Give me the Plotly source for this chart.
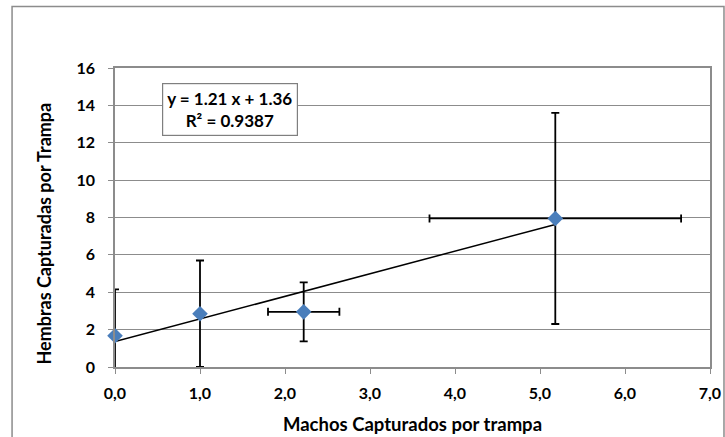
import plotly.graph_objects as go

# Trap capture means (x = males per trap, y = females per trap) with SD
machos = [0.0, 1.0, 2.22, 5.18]
hembras = [1.67, 2.85, 2.95, 7.95]
err_machos = [0.0, 0.0, 0.42, 1.48]
err_hembras = [2.48, 2.85, 1.58, 5.65]

# Linear trendline as reported by the spreadsheet
slope = 1.21
intercept = 1.36
trend_x = [0.0, 5.18]

x_ticks = [0, 1, 2, 3, 4, 5, 6, 7]
x_tick_labels = ["0,0", "1,0", "2,0", "3,0", "4,0", "5,0", "6,0", "7,0"]
y_ticks = [0, 2, 4, 6, 8, 10, 12, 14, 16]

GRID = "#8c8c8c"
FONT = "Lato, 'Open Sans', sans-serif"
TICK_FONT = dict(size=16, color="black", family=FONT)

fig = go.Figure()

fig.add_trace(
    go.Scatter(
        x=trend_x,
        y=[slope * v + intercept for v in trend_x],
        mode="lines",
        line=dict(color="black", width=1.5),
        hoverinfo="skip",
        showlegend=False,
    )
)

# error bars (clipped to the plot area, like the spreadsheet does)
fig.add_trace(
    go.Scatter(
        x=machos,
        y=hembras,
        mode="markers",
        marker=dict(size=1, opacity=0),
        error_x=dict(type="data", array=err_machos, color="black",
                     thickness=1.8, width=4),
        error_y=dict(type="data", array=err_hembras, color="black",
                     thickness=1.8, width=4),
        hoverinfo="skip",
        showlegend=False,
    )
)

# diamonds on top, not clipped so the one at x=0 stays whole
fig.add_trace(
    go.Scatter(
        x=machos,
        y=hembras,
        mode="markers",
        marker=dict(symbol="diamond", size=12, color="#4a7ebb"),
        cliponaxis=False,
        showlegend=False,
    )
)

fig.update_xaxes(
    range=[0, 7],
    tickvals=x_ticks,
    ticktext=[f"<b>{t}</b>" for t in x_tick_labels],
    ticks="outside",
    ticklen=5,
    tickcolor=GRID,
    ticklabelstandoff=6,
    showgrid=False,
    showline=True,
    linecolor=GRID,
    linewidth=1.5,
    mirror=True,
    zeroline=False,
    tickfont=TICK_FONT,
    automargin=False,
    title=dict(text="<b>Machos Capturados por trampa</b>",
               font=dict(size=18.5, color="black", family=FONT), standoff=17),
)
fig.update_yaxes(
    range=[0, 16],
    tickvals=y_ticks,
    ticktext=[f"<b>{t}</b>" for t in y_ticks],
    ticks="outside",
    ticklen=5,
    tickcolor=GRID,
    ticklabelstandoff=10,
    showgrid=True,
    gridcolor=GRID,
    gridwidth=1,
    showline=True,
    linecolor=GRID,
    linewidth=1.5,
    mirror=True,
    zeroline=False,
    tickfont=TICK_FONT,
    automargin=False,
)

# y title sits a little below the plot centre in the original
fig.add_annotation(
    xref="paper", yref="paper",
    x=-0.119, y=0.447,
    xanchor="center", yanchor="middle",
    text="<b>Hembras Capturadas por Trampa</b>",
    textangle=-90,
    showarrow=False,
    font=dict(size=18, color="black", family=FONT),
)

fig.add_annotation(
    xref="paper", yref="paper",
    x=0.079, y=0.949,
    xanchor="left", yanchor="top",
    text="<b>y = 1.21 x + 1.36</b><br><b>R² = 0.9387</b>",
    showarrow=False,
    align="center",
    font=dict(size=17, color="black", family=FONT),
    bgcolor="white",
    bordercolor="#7f7f7f",
    borderwidth=1.2,
    borderpad=4,
)

# outer chart frame
fig.add_shape(
    type="rect", xref="paper", yref="paper",
    x0=-0.173, x1=1.0235, y0=-0.3, y1=1.206,
    line=dict(color="#8c8c8c", width=1.5),
    layer="below",
)

fig.update_layout(
    width=725,
    height=437,
    margin=dict(l=115, r=15, t=68, b=70),
    plot_bgcolor="white",
    paper_bgcolor="white",
    font=dict(family=FONT, color="black"),
    hovermode=False,
)

# drop the default 8px body margin so the figure sits at the window origin
fig.write_html(
    "out.html",
    config={"displayModeBar": False},
    post_script="document.body.style.margin='0';",
)
